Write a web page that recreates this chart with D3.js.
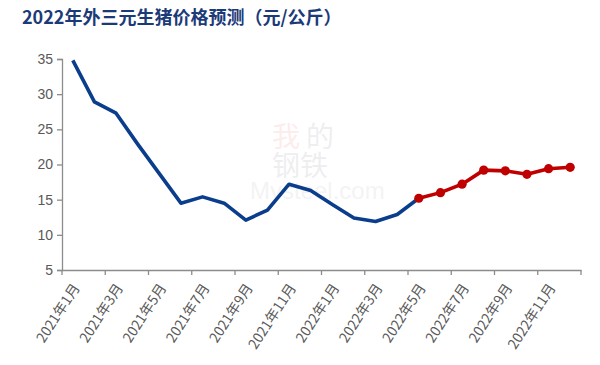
<!DOCTYPE html>
<meta charset="utf-8">
<script src="https://d3js.org/d3.v7.min.js"></script>
<style>
  body { margin: 0; background: #fff; }
  text { font-family: "Noto Sans CJK SC", "Liberation Sans", sans-serif; }
</style>
<div id="my_dataviz"></div>
<script>

// months 2021-01 .. 2022-12
var months = ["2021年1月","2021年2月","2021年3月","2021年4月","2021年5月","2021年6月",
  "2021年7月","2021年8月","2021年9月","2021年10月","2021年11月","2021年12月",
  "2022年1月","2022年2月","2022年3月","2022年4月","2022年5月","2022年6月",
  "2022年7月","2022年8月","2022年9月","2022年10月","2022年11月","2022年12月"];

// actual prices (2021-01 .. 2022-05)
var actual = [34.8, 28.9, 27.3, 22.9, 18.7, 14.5, 15.4, 14.5, 12.1, 13.5, 17.2, 16.3,
  14.3, 12.4, 11.9, 12.9, 15.2];

// forecast (2022-05 .. 2022-12)
var forecastMonths = months.slice(16);
var forecast = [15.2, 16.0, 17.2, 19.2, 19.1, 18.6, 19.4, 19.6];

var yTicks = [5, 10, 15, 20, 25, 30, 35];

var W = 600, H = 365;
var mLeft = 62, mRight = 581, mTop = 59, mBottom = 270;

var svg = d3.select("#my_dataviz")
  .append("svg")
    .attr("width", W)
    .attr("height", H);

// title
svg.append("text")
  .attr("x", 22)
  .attr("y", 24)
  .attr("font-size", 18)
  .attr("font-weight", "bold")
  .attr("fill", "#1b3a78")
  .text("2022年外三元生猪价格预测（元/公斤）");

// watermark
var wm = svg.append("g").attr("opacity", 0.07);
wm.append("text").attr("x", 272).attr("y", 147).attr("font-size", 28)
  .attr("fill", "#d00").text("我");
wm.append("text").attr("x", 306).attr("y", 147).attr("font-size", 28).attr("fill", "#224").text("的");
wm.append("text").attr("x", 272).attr("y", 176).attr("font-size", 28).attr("fill", "#224").text("钢铁");
wm.append("text").attr("x", 250).attr("y", 199).attr("font-size", 24).attr("fill", "#666")
  .style("font-family", "Liberation Sans, Arial, sans-serif").text("Mysteel.com");

var x = d3.scaleBand()
  .domain(months)
  .range([mLeft, mRight])
  .padding(0);

var y = d3.scaleLinear()
  .domain([5, 35])
  .range([mBottom, mTop]);

// Y axis
var yAxis = svg.append("g")
  .attr("transform", "translate(" + mLeft + ",0)")
  .call(d3.axisLeft(y).tickValues(yTicks).tickSize(5).tickPadding(4));
yAxis.selectAll("text").attr("font-size", 14).attr("fill", "#595959")
  .style("font-family", "Liberation Sans, Arial, sans-serif");
yAxis.selectAll("line, path").attr("stroke", "#8c8c8c").attr("stroke-width", 1.3);

// X axis: ticks at category boundaries every 2 months
var evenMonths = months.filter(function(d, i) { return i % 2 === 0; });
var xAxis = svg.append("g")
  .attr("transform", "translate(0," + mBottom + ")")
  .call(d3.axisBottom(x).tickValues(evenMonths).tickSizeOuter(0).tickSize(0));
xAxis.select("path").attr("stroke", "#8c8c8c").attr("stroke-width", 1.3);

var tickPos = evenMonths.map(function(m) { return x(m); }).concat([mRight]);
xAxis.selectAll(".bt")
  .data(tickPos)
  .enter().append("line")
    .attr("x1", function(d) { return d; })
    .attr("x2", function(d) { return d; })
    .attr("y1", 0).attr("y2", 5)
    .attr("stroke", "#8c8c8c").attr("stroke-width", 1.3);

xAxis.selectAll(".tick text")
  .attr("font-size", 14)
  .attr("fill", "#595959")
  .attr("text-anchor", "end")
  .attr("dy", 0)
  .attr("transform", "translate(5,16) rotate(-57)");

// actual line
var line = d3.line()
  .x(function(d) { return x(d[0]) + x.bandwidth() / 2; })
  .y(function(d) { return y(d[1]); });

svg.append("path")
  .datum(actual.map(function(v, i) { return [months[i], v]; }))
  .attr("fill", "none")
  .attr("stroke", "#0a3d8c")
  .attr("stroke-width", 3.6)
  .attr("stroke-linejoin", "round")
  .attr("d", line);

// forecast line
var fc = forecast.map(function(v, i) { return [forecastMonths[i], v]; });
svg.append("path")
  .datum(fc)
  .attr("fill", "none")
  .attr("stroke", "#c00000")
  .attr("stroke-width", 3.6)
  .attr("stroke-linejoin", "round")
  .attr("d", line);

svg.selectAll(".dot")
  .data(fc)
  .enter().append("circle")
    .attr("cx", function(d) { return x(d[0]) + x.bandwidth() / 2; })
    .attr("cy", function(d) { return y(d[1]); })
    .attr("r", 4.6)
    .attr("fill", "#c00000");

</script>
